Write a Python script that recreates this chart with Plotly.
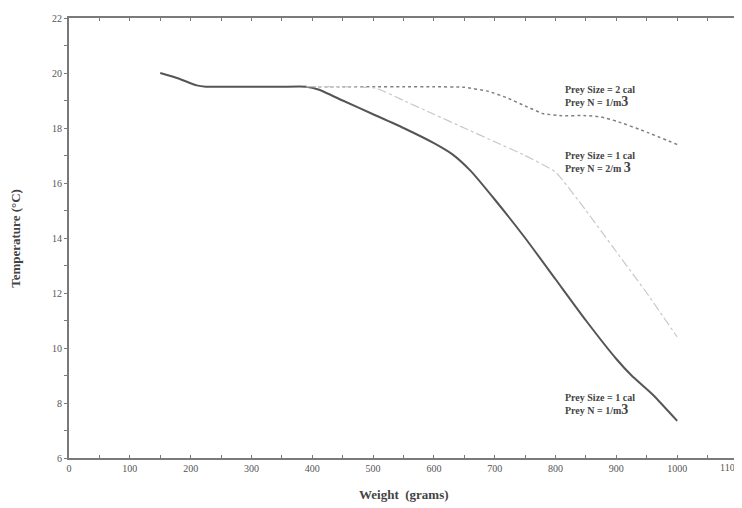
import plotly.graph_objects as go

# Prey Size = 1 cal, Prey N = 1/m3 (solid)
w_a = [150, 180, 210, 225, 260, 300, 350, 390, 410, 450, 500, 550, 600, 630, 660, 700, 750, 800, 850, 900, 925, 960, 1000]
t_a = [20.0, 19.8, 19.55, 19.5, 19.5, 19.5, 19.5, 19.5, 19.4, 19.0, 18.5, 18.0, 17.45, 17.05, 16.45, 15.4, 14.0, 12.5, 11.0, 9.6, 9.0, 8.3, 7.35]

# Prey Size = 2 cal, Prey N = 1/m3 (dotted)
w_b = [390, 450, 500, 550, 600, 650, 690, 720, 750, 780, 810, 850, 875, 900, 950, 1000]
t_b = [19.5, 19.5, 19.5, 19.5, 19.5, 19.48, 19.33, 19.1, 18.8, 18.52, 18.45, 18.45, 18.4, 18.25, 17.85, 17.4]

# Prey Size = 1 cal, Prey N = 2/m3 (dash-dot, light)
w_c = [390, 450, 505, 550, 600, 650, 700, 750, 800, 850, 900, 950, 1000]
t_c = [19.5, 19.5, 19.45, 19.0, 18.5, 18.0, 17.5, 17.0, 16.4, 15.0, 13.5, 12.0, 10.4]

x_ticks = [0, 100, 200, 300, 400, 500, 600, 700, 800, 900, 1000, 1100]
y_ticks = [6, 8, 10, 12, 14, 16, 18, 20, 22]

labels = [
    ("Prey Size = 2 cal<br>Prey N = 1/m<span style='font-size:14px'>3</span>", 19.13),
    ("Prey Size = 1 cal<br>Prey N = 2/m <span style='font-size:14px'>3</span>", 16.76),
    ("Prey Size = 1 cal<br>Prey N = 1/m<span style='font-size:14px'>3</span>", 7.96),
]

fig = go.Figure()
fig.add_trace(go.Scatter(x=w_a, y=t_a, mode="lines", line=dict(color="#555555", width=2, shape="spline", smoothing=0.5), showlegend=False))
fig.add_trace(go.Scatter(x=w_b, y=t_b, mode="lines", line=dict(color="#808080", width=1.5, dash="dot", shape="spline", smoothing=0.4), showlegend=False))
fig.add_trace(go.Scatter(x=w_c, y=t_c, mode="lines", line=dict(color="#c8c8c8", width=1.2, dash="dashdot", shape="spline", smoothing=0.4), showlegend=False))

for txt, ypos in labels:
    fig.add_annotation(x=812, y=ypos, xref="x", yref="y", text="<b>" + txt + "</b>", showarrow=False,
                       xanchor="left", yanchor="middle", align="left",
                       font=dict(family="Liberation Serif", size=10, color="#444444"))

# last x tick label, kept at the right edge of the figure
fig.add_annotation(x=1, y=0, xref="paper", yref="paper", text=str(x_ticks[-1]), showarrow=False,
                   xanchor="right", yanchor="top", yshift=-2, xshift=4,
                   font=dict(family="Liberation Serif", size=10, color="#555555"))

fig.add_annotation(x=0.5, y=-0.084, xref="paper", yref="paper", text="<b>Weight  (grams)</b>",
                   showarrow=False, xanchor="center", yanchor="middle",
                   font=dict(family="Liberation Serif", size=13, color="#444444"))
fig.add_annotation(x=-0.081, y=0.5, xref="paper", yref="paper", text="<b>Temperature (°C)</b>",
                   showarrow=False, xanchor="center", yanchor="middle", textangle=-90,
                   font=dict(family="Liberation Serif", size=13, color="#444444"))

fig.update_layout(
    width=734, height=500,
    margin=dict(l=61, r=4, t=10, b=50),
    paper_bgcolor="white", plot_bgcolor="white",
    font=dict(family="Liberation Serif", color="#555555"),
    xaxis=dict(range=[0, 1100], tickvals=x_ticks[:-1], ticktext=[str(v) for v in x_ticks[:-1]],
               showgrid=False, zeroline=False, showline=True, linecolor="#7a7a7a", linewidth=2,
               mirror="ticks", ticks="inside", ticklen=3, tickcolor="#7a7a7a",
               minor=dict(dtick=50, ticks="inside", ticklen=3, tickcolor="#7a7a7a"),
               tickfont=dict(size=10, color="#555555"), automargin=False),
    yaxis=dict(range=[6, 22], tickvals=y_ticks, ticktext=[str(v) for v in y_ticks],
               showgrid=False, zeroline=False, showline=True, linecolor="#7a7a7a", linewidth=2,
               mirror="ticks", ticks="outside", ticklen=3, tickcolor="#7a7a7a",
               minor=dict(dtick=1, ticks="outside", ticklen=3, tickcolor="#7a7a7a"),
               tickfont=dict(size=10, color="#555555"), automargin=False),
)

fig.write_html("out.html")
